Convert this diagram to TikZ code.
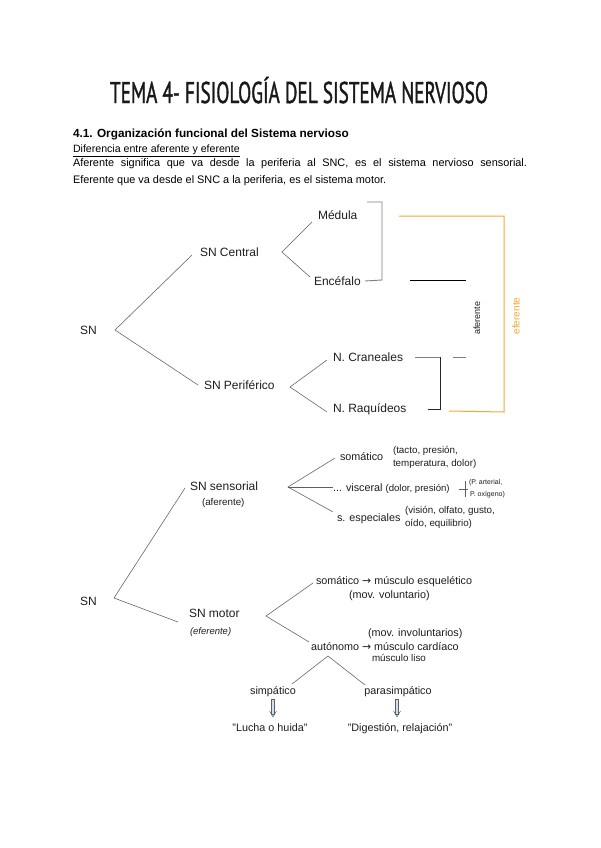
\documentclass[tikz,border=0pt]{standalone}
\usepackage{fontspec}
\usepackage{graphicx}
\setmainfont{Liberation Sans}
\newfontfamily\titlefont[FakeBold=1.6]{PT Sans}
\newfontfamily\symfont{DejaVu Sans}
\definecolor{orng}{RGB}{247,168,50}
\definecolor{ln}{RGB}{95,95,95}
\definecolor{txt}{RGB}{30,30,30}
\definecolor{arrowblue}{RGB}{205,225,244}
\newcommand{\ra}{{\symfont\char"2192}}
\begin{document}
\begin{tikzpicture}[x=1pt,y=-1pt,
  every node/.style={inner sep=0pt, outer sep=0pt, text=txt},
  lbl/.style={font=\fontsize{12}{14}\selectfont, anchor=base west},
  sm/.style={font=\fontsize{10.8}{12}\selectfont, anchor=base west},
  tiny/.style={font=\fontsize{9.8}{11}\selectfont, anchor=base west},
  body/.style={font=\fontsize{10.9}{12}\selectfont, anchor=base west, text=black},
  conn/.style={draw=ln, line width=0.55pt},
  brk/.style={draw=ln!80, line width=0.9pt},
  hollow/.style={draw=ln, line width=0.4pt, fill=arrowblue}
  ]
\useasboundingbox[fill=white] (0,0) rectangle (600,848);

% ---------- header ----------
\node[anchor=base, text=black!90] (title) at (299,103)
  {\resizebox{378pt}{\height}{\titlefont\fontsize{30}{30}\selectfont TEMA 4- FISIOLOGÍA DEL SISTEMA NERVIOSO}};
\node[body, font=\fontsize{11.8}{13}\selectfont\bfseries] (head) at (73,138)
  {4.1. Organización funcional del Sistema nervioso};
\node[body, font=\fontsize{10.6}{12}\selectfont] (dif) at (73,153) {\underline{Diferencia entre aferente y eferente}};
\node[body] (af) at (73,166)
  {\makebox[454pt][s]{Aferente significa que va desde la periferia al SNC, es el sistema nervioso sensorial.}};
\node[body] (ef) at (73,183) {Eferente que va desde el SNC a la periferia, es el sistema motor.};

% ---------- top diagram ----------
\node[lbl] (sn1) at (80,334) {SN};
\node[lbl] (snc) at (200,256) {SN Central};
\node[lbl] (snp) at (204,389) {SN Periférico};
\node[lbl] (med) at (318,219) {Médula};
\node[lbl] (enc) at (314,285) {Encéfalo};
\node[lbl] (ncr) at (333,361) {N. Craneales};
\node[lbl] (nrq) at (333,412) {N. Raquídeos};

\coordinate (a0) at (115,330); \coordinate (a1) at (192,255); \coordinate (a2) at (198,385);
\coordinate (b0) at (282,252); \coordinate (b1) at (312,222); \coordinate (b2) at (310,277);
\coordinate (c0) at (290,387); \coordinate (c1) at (327,360); \coordinate (c2) at (327,412);
\draw[conn] (a1) -- (a0) -- (a2);
\draw[conn] (b1) -- (b0) -- (b2);
\draw[conn] (c1) -- (c0) -- (c2);

% brackets
\coordinate (m1) at (367,202); \coordinate (m2) at (382,202);
\coordinate (m3) at (382,280); \coordinate (m4) at (365,281);
\draw[brk] (m1) -- (m2) -- (m3) -- (m4);
\coordinate (k1) at (410,280); \coordinate (k2) at (466,280);
\draw[draw=black, line width=0.8pt] (k1) -- (k2);
\coordinate (n1) at (415,357); \coordinate (n2) at (440,357);
\coordinate (n3) at (440,409); \coordinate (n4) at (428,409);
\draw[brk] (n1) -- (n2);
\draw[draw=black!85, line width=0.8pt] (n2) -- (n3) -- (n4);
\coordinate (p1) at (453,357); \coordinate (p2) at (466,357);
\draw[brk] (p1) -- (p2);
\node[rotate=90, font=\fontsize{9}{11}\selectfont] (afr) at (477,318) {aferente};

% orange bracket
\coordinate (o1) at (399,216); \coordinate (o2) at (504,216);
\coordinate (o3) at (504,412); \coordinate (o4) at (449,411);
\draw[draw=orng, line width=1pt] (o1) -- (o2) -- (o3) -- (o4);
\node[rotate=90, font=\fontsize{10}{12}\selectfont, text=orng] (efr) at (516,316) {eferente};

% ---------- bottom diagram ----------
\node[lbl] (sn2) at (80,605) {SN};
\node[lbl] (sns) at (190,490) {SN sensorial};
\node[tiny] (snsa) at (202,505) {(aferente)};
\node[lbl] (snm) at (189,617) {SN motor};
\node[tiny, font=\fontsize{9.5}{11}\selectfont\itshape] (snme) at (190,634) {(eferente)};

\coordinate (d0) at (114,598); \coordinate (d1) at (185,488); \coordinate (d2) at (178,622);
\draw[conn] (d1) -- (d0) -- (d2);

\coordinate (e0) at (288,487); \coordinate (e1) at (335,458);
\coordinate (e2) at (333,487); \coordinate (e3) at (333,512);
\draw[conn] (e1) -- (e0) -- (e3);
\draw[conn, line width=1pt] (e0) -- (e2);

\node[sm] (som1) at (340,460) {somático};
\node[tiny] (som1a) at (393,453) {(tacto, presión,};
\node[tiny] (som1b) at (393,466) {temperatura, dolor)};
\node[sm] (visc) at (333,491) {... visceral {\fontsize{9.6}{11}\selectfont(dolor, presión)}};
\coordinate (q1) at (459,489); \coordinate (q2) at (468,489);
\coordinate (q3) at (465,481); \coordinate (q4) at (465,497);
\draw[conn] (q1) -- (q2); \draw[conn] (q3) -- (q4);
\node[tiny, font=\fontsize{7}{8}\selectfont] (pa) at (469,484) {(P. arterial,};
\node[tiny, font=\fontsize{7}{8}\selectfont] (po) at (470,496) {P. oxígeno)};
\node[sm] (esp) at (337,521) {s. especiales};
\node[tiny] (espa) at (405,513) {(visión, olfato, gusto,};
\node[tiny] (espb) at (405,526) {oído, equilibrio)};

\coordinate (f0) at (266,616); \coordinate (f1) at (313,583); \coordinate (f2) at (309,642);
\draw[conn] (f1) -- (f0) -- (f2);

\node[sm] (som2) at (316,584) {somático \ra{} músculo esquelético};
\node[sm] (som2a) at (349,598) {(mov. voluntario)};
\node[sm] (aut0) at (368,636) {(mov. involuntarios)};
\node[sm] (aut) at (311,650) {autónomo \ra{} músculo cardíaco};
\node[tiny] (liso) at (372,661) {músculo liso};

\coordinate (g0) at (328,656); \coordinate (g1) at (292,684); \coordinate (g2) at (365,685);
\draw[conn] (g1) -- (g0) -- (g2);

\node[sm, anchor=base] (simp) at (273,694) {simpático};
\node[sm, anchor=base] (para) at (398,694) {parasimpático};
\node[sm, anchor=base] (lucha) at (270,731) {"Lucha o huida"};
\node[sm, anchor=base] (dige) at (400,731) {"Digestión, relajación"};

% hollow arrows
\foreach \ax in {273,397}{
  \draw[hollow] (\ax-1.4,699) rectangle (\ax+1.4,714);
  \draw[draw=ln, line width=0.5pt] (\ax-3.5,711) -- (\ax,717) -- (\ax+3.5,711);
}
\end{tikzpicture}
\end{document}
